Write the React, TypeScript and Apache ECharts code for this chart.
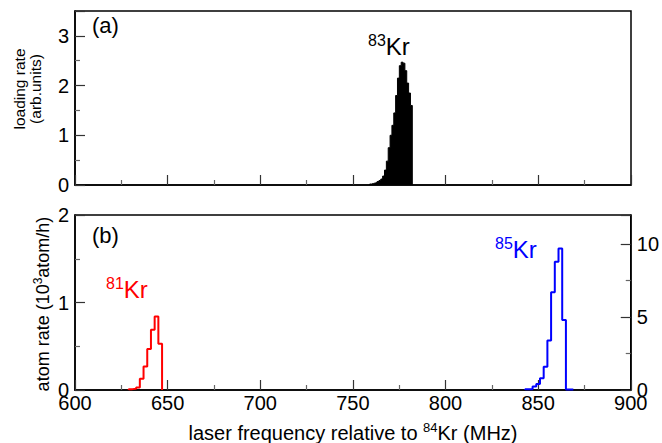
import React, { useEffect, useRef } from "react";
import * as echarts from "echarts";

// 83Kr loading rate histogram (1 MHz bins), arb. units
const KR83_EDGES = [759, 760, 761, 762, 763, 764, 765, 766, 767, 768, 769, 770, 771, 772, 773, 774, 775, 776, 777, 778, 779, 780, 781, 782];
const KR83_RATE = [0.02, 0.03, 0.04, 0.05, 0.07, 0.09, 0.12, 0.18, 0.3, 0.48, 0.75, 1.0, 1.2, 1.45, 1.8, 2.15, 2.4, 2.47, 2.45, 2.3, 2.05, 1.85, 1.6];

// 81Kr atom rate (10^3 atom/h), 2 MHz bins, left axis
const KR81_EDGES = [629, 631, 633, 635, 637, 639, 641, 643, 645, 647];
const KR81_RATE = [0.01, 0.015, 0.03, 0.13, 0.27, 0.47, 0.69, 0.84, 0.53];

// 85Kr atom rate, 2 MHz bins, right axis
const KR85_EDGES = [843, 845, 847, 849, 851, 853, 855, 857, 859, 861, 863, 865, 867, 869];
const KR85_RATE = [0.05, 0.05, 0.24, 0.42, 0.8, 1.6, 3.4, 6.7, 8.8, 9.7, 4.8, 0.03, 0.03];

const X_MIN = 600;
const X_MAX = 900;
const X_STEP = 50;

const FONT = "'Liberation Sans', Arial, Helvetica, sans-serif";

function stepData(edges: number[], values: number[]) {
  const pts: number[][] = [[edges[0], 0]];
  values.forEach((v, i) => pts.push([edges[i], v]));
  pts.push([edges[edges.length - 1], 0]);
  return pts;
}

function isoLabel(sup: string, color: string) {
  return {
    text: `{s|${sup}}{n|Kr}`,
    fill: color,
    fontFamily: FONT,
    rich: {
      s: { fontSize: 16, lineHeight: 12, verticalAlign: "top", fill: color, fontFamily: FONT },
      n: { fontSize: 24, lineHeight: 26, verticalAlign: "bottom", fill: color, fontFamily: FONT },
    },
  };
}

export default function App() {
  const ref = useRef<HTMLDivElement>(null);

  useEffect(() => {
    if (!ref.current) return;
    const chart = echarts.init(ref.current, undefined, { renderer: "svg" });

    const tickCommon = {
      axisTick: { show: true, inside: true, length: 10, lineStyle: { color: "#333", width: 1.2 } },
      minorTick: { show: true, splitNumber: 2, length: 5, lineStyle: { color: "#666", width: 1.2 } },
      axisLine: { show: true, lineStyle: { color: "#000", width: 1.5 } },
      splitLine: { show: false },
      minorSplitLine: { show: false },
    };

    const labelStyle = { color: "#000", fontSize: 20, fontFamily: FONT };

    const option: any = {
      animation: false,
      textStyle: { fontFamily: FONT },
      grid: [
        { left: 75, top: 11, width: 556, height: 174, show: true, borderColor: "#000", borderWidth: 1.5, backgroundColor: "transparent" },
        { left: 75, top: 215, width: 556, height: 175, show: true, borderColor: "#000", borderWidth: 1.5, backgroundColor: "transparent" },
      ],
      xAxis: [
        {
          gridIndex: 0, type: "value", min: X_MIN, max: X_MAX, interval: X_STEP,
          ...tickCommon,
          axisLabel: { show: false },
        },
        {
          gridIndex: 1, type: "value", min: X_MIN, max: X_MAX, interval: X_STEP,
          ...tickCommon,
          axisLabel: { ...labelStyle, margin: 3 },
        },
      ],
      yAxis: [
        {
          gridIndex: 0, type: "value", min: 0, max: 3.5, interval: 1,
          ...tickCommon,
          axisLabel: { ...labelStyle, margin: 6, formatter: (v: number) => (v % 1 === 0 ? String(v) : "") },
        },
        {
          gridIndex: 1, type: "value", min: 0, max: 2, interval: 1,
          ...tickCommon,
          axisLabel: { ...labelStyle, margin: 6 },
        },
        {
          gridIndex: 1, type: "value", min: 0, max: 12, interval: 5, position: "right",
          ...tickCommon,
          axisLabel: { ...labelStyle, margin: 6, formatter: (v: number) => (v % 5 === 0 ? String(v) : "") },
        },
      ],
      series: [
        {
          type: "line", xAxisIndex: 0, yAxisIndex: 0, step: "end", symbol: "none",
          data: stepData(KR83_EDGES, KR83_RATE),
          lineStyle: { color: "#000", width: 1 },
          areaStyle: { color: "#000", opacity: 1 },
        },
        {
          type: "line", xAxisIndex: 1, yAxisIndex: 1, step: "end", symbol: "none",
          data: stepData(KR81_EDGES, KR81_RATE),
          lineStyle: { color: "#ff0000", width: 2 },
        },
        {
          type: "line", xAxisIndex: 1, yAxisIndex: 2, step: "end", symbol: "none",
          data: stepData(KR85_EDGES, KR85_RATE),
          lineStyle: { color: "#0000ff", width: 2 },
        },
      ],
      graphic: [
        { type: "text", left: 92, top: 14, style: { text: "(a)", fontSize: 22, fontFamily: FONT, fill: "#000" } },
        { type: "text", left: 92, top: 224, style: { text: "(b)", fontSize: 22, fontFamily: FONT, fill: "#000" } },
        { type: "text", x: 368, y: 32, style: isoLabel("83", "#000") },
        { type: "text", x: 106, y: 275, style: isoLabel("81", "#ff0000") },
        { type: "text", x: 495, y: 235, style: isoLabel("85", "#0000ff") },
        {
          type: "text", x: 27, y: 89, rotation: Math.PI / 2,
          style: {
            text: "loading rate\n(arb.units)", fontSize: 15.5, lineHeight: 16, fontFamily: FONT, fill: "#000",
            align: "center", verticalAlign: "middle",
          },
        },
        {
          type: "text", x: 42, y: 304, rotation: Math.PI / 2,
          style: {
            text: "{n|atom rate (10}{s|3}{n|atom/h)}", fontFamily: FONT, fill: "#000",
            align: "center", verticalAlign: "middle",
            rich: {
              n: { fontSize: 18, lineHeight: 20, verticalAlign: "bottom", fill: "#000", fontFamily: FONT },
              s: { fontSize: 12, lineHeight: 10, verticalAlign: "top", fill: "#000", fontFamily: FONT },
            },
          },
        },
        {
          type: "text", x: 353, y: 432,
          style: {
            text: "{n|laser frequency relative to }{s|84}{n|Kr (MHz)}", fontFamily: FONT, fill: "#000",
            align: "center", verticalAlign: "middle",
            rich: {
              n: { fontSize: 20, lineHeight: 22, verticalAlign: "bottom", fill: "#000", fontFamily: FONT },
              s: { fontSize: 13, lineHeight: 10, verticalAlign: "top", fill: "#000", fontFamily: FONT },
            },
          },
        },
      ],
    };

    chart.setOption(option);
    return () => chart.dispose();
  }, []);

  return (
    <div
      ref={ref}
      style={{ position: "fixed", left: 0, top: 0, width: 662, height: 443, background: "#fff" }}
    />
  );
}
